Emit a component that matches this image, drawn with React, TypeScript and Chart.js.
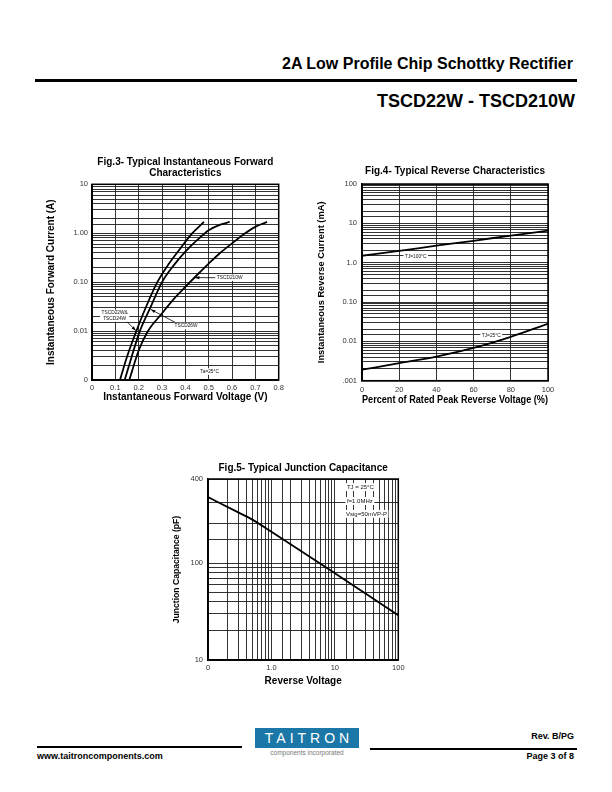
import React, { useEffect, useRef } from 'react';
import { Chart, registerables, LogarithmicScale } from 'chart.js';

const SANS = "'Liberation Sans', Arial, Helvetica, sans-serif";
const NARROW = "'Liberation Sans Narrow', 'Arial Narrow', 'Liberation Sans', Arial, sans-serif";

// ---------------- Fig.3 : forward characteristics ----------------
const FIG3_V_22W = [0.12, 0.15, 0.19, 0.23, 0.28, 0.33, 0.38, 0.43, 0.48];
const FIG3_I_22W = [0.001, 0.003, 0.01, 0.03, 0.1, 0.24, 0.5, 1.0, 1.7];
const FIG3_V_26W = [0.14, 0.17, 0.205, 0.25, 0.3, 0.35, 0.4, 0.45, 0.5, 0.55, 0.59];
const FIG3_I_26W = [0.001, 0.003, 0.01, 0.03, 0.1, 0.22, 0.42, 0.72, 1.15, 1.5, 1.7];
const FIG3_V_210W = [0.16, 0.2, 0.24, 0.3, 0.35, 0.4, 0.45, 0.5, 0.55, 0.6, 0.65, 0.7, 0.75];
const FIG3_I_210W = [0.001, 0.004, 0.01, 0.023, 0.045, 0.08, 0.14, 0.24, 0.4, 0.62, 0.95, 1.35, 1.7];
const FIG3_Y_DECADES = [0.001, 0.01, 0.1, 1, 10];
const FIG3_Y_LABELS = ['0', '0.01', '0.10', '1.00', '10'];

// ---------------- Fig.4 : reverse characteristics ----------------
const FIG4_PCT = [0, 20, 40, 60, 80, 100];
const FIG4_TJ100 = [1.5, 2.0, 2.7, 3.6, 4.9, 6.5];
const FIG4_TJ25 = [0.0019, 0.0028, 0.0041, 0.0068, 0.013, 0.028];
const FIG4_Y_DECADES = [0.001, 0.01, 0.1, 1, 10, 100];
const FIG4_Y_LABELS = ['.001', '0.01', '0.10', '1.0', '10', '100'];

// ---------------- Fig.5 : junction capacitance ----------------
const FIG5_VR = [0.1, 0.3, 0.5, 1, 3, 10, 30, 100];
const FIG5_CJ = [320, 247, 215, 173, 123, 79, 49, 29];
const FIG5_X_DECADES = [0.1, 1, 10, 100];
const FIG5_X_LABELS = ['0', '1.0', '10', '100'];
const FIG5_Y_MARKS = [10, 100, 400];
const FIG5_Y_LABELS = ['10', '100', '400'];
// the original capacitance axis is not evenly logarithmic above 100 pF:
// grid values and where they sit along the axis (0 = bottom, 1 = top)
const FIG5_Y_KNOT_VALUES = [10, 100, 200, 300, 400];
const FIG5_Y_KNOT_FRACTIONS = [0, 0.534, 0.755, 0.871, 1];

type Label = { lines: string[]; x: number; y: number; size: number; align?: 'left' | 'center' };
type Arrow = { from: [number, number]; to: [number, number] };

const FIG3_LABELS: Label[] = [
  { lines: ['TSCD210W'], x: 0.535, y: 0.1236, size: 4.8 },
  { lines: ['TSCD22W&', 'TSCD24W'], x: 0.097, y: 0.0234, size: 4.8, align: 'center' },
  { lines: ['TSCD26W'], x: 0.354, y: 0.0127, size: 4.8 },
  { lines: ['Ta=25°C'], x: 0.504, y: 0.00149, size: 4.8, align: 'center' },
];
const FIG3_ARROWS: Arrow[] = [
  { from: [0.53, 0.1236], to: [0.441, 0.1236] },
  { from: [0.147, 0.0161], to: [0.188, 0.0102] },
  { from: [0.357, 0.015], to: [0.252, 0.0277] },
];
const FIG4_LABELS: Label[] = [
  { lines: ['TJ=100°C'], x: 23.1, y: 1.38, size: 4.8 },
  { lines: ['TJ=25°C'], x: 64.4, y: 0.0141, size: 4.8 },
];
const FIG5_LABELS: Label[] = [
  { lines: ['TJ = 25°C'], x: 15.5, y: 362, size: 6 },
  { lines: ['f=1.0MHz'], x: 15.5, y: 305, size: 6 },
  { lines: ['Vsig=50mVP-P'], x: 15.0, y: 240, size: 6 },
];

class KnottedLogScale extends (LogarithmicScale as any) {
  static id = 'knottedLog';
  static defaults = (LogarithmicScale as any).defaults;

  _knots(): { lv: number[]; fr: number[] } {
    const o: any = (this as any).options;
    const vals: number[] = Array.from(o.knotValues || []);
    const fr: number[] = Array.from(o.knotFractions || []);
    return { lv: vals.map((v) => Math.log10(v)), fr };
  }

  getPixelForValue(value: number) {
    const self: any = this;
    if (value === undefined || value === 0) value = self.min;
    if (value === null || isNaN(value)) return NaN;
    const { lv, fr } = this._knots();
    const l = Math.log10(value);
    let i = 0;
    while (i < lv.length - 2 && l > lv[i + 1]) i++;
    const t = (l - lv[i]) / (lv[i + 1] - lv[i]);
    return self.getPixelForDecimal(fr[i] + t * (fr[i + 1] - fr[i]));
  }

  getValueForPixel(pixel: number) {
    const self: any = this;
    const d = self.getDecimalForPixel(pixel);
    const { lv, fr } = this._knots();
    let i = 0;
    while (i < fr.length - 2 && d > fr[i + 1]) i++;
    const t = (d - fr[i]) / (fr[i + 1] - fr[i]);
    return Math.pow(10, lv[i] + t * (lv[i + 1] - lv[i]));
  }
}

Chart.register(...registerables, KnottedLogScale as any);

function pts(xs: number[], ys: number[]) {
  return xs.map((x, i) => ({ x, y: ys[i] }));
}

function decadeLabeler(marks: number[], labels: string[]) {
  return (value: any) => {
    const v = Number(value);
    const i = marks.findIndex((d) => Math.abs(Math.log10(v) - Math.log10(d)) < 1e-6);
    return i >= 0 ? labels[i] : '';
  };
}

const framePlugin = {
  id: 'frame',
  afterDatasetsDraw(chart: any) {
    const { ctx, chartArea: a } = chart;
    ctx.save();
    ctx.strokeStyle = '#000';
    ctx.lineWidth = 1.5;
    ctx.strokeRect(a.left, a.top, a.right - a.left, a.bottom - a.top);
    ctx.restore();
  },
};

function makeNotes(labels: Label[], arrows: Arrow[]) {
  return {
    id: 'notes',
    afterDatasetsDraw(chart: any) {
      const { ctx } = chart;
      const xs = chart.scales.x;
      const ys = chart.scales.y;
      ctx.save();
      ctx.strokeStyle = '#000';
      ctx.fillStyle = '#000';
      for (const a of arrows) {
        const x1 = xs.getPixelForValue(a.from[0]);
        const y1 = ys.getPixelForValue(a.from[1]);
        const x2 = xs.getPixelForValue(a.to[0]);
        const y2 = ys.getPixelForValue(a.to[1]);
        ctx.lineWidth = 0.8;
        ctx.beginPath();
        ctx.moveTo(x1, y1);
        ctx.lineTo(x2, y2);
        ctx.stroke();
        const ang = Math.atan2(y2 - y1, x2 - x1);
        const L = 4.5;
        const W = 1.6;
        const c = Math.cos(ang);
        const s = Math.sin(ang);
        ctx.beginPath();
        ctx.moveTo(x2, y2);
        ctx.lineTo(x2 - L * c + W * s, y2 - L * s - W * c);
        ctx.lineTo(x2 - L * c - W * s, y2 - L * s + W * c);
        ctx.closePath();
        ctx.fill();
      }
      for (const n of labels) {
        ctx.font = `${n.size}px ${NARROW}`;
        const px = xs.getPixelForValue(n.x);
        const py = ys.getPixelForValue(n.y);
        const lh = n.size * 1.15;
        const widths = n.lines.map((t) => ctx.measureText(t).width);
        const w = Math.max(...widths);
        const h = lh * n.lines.length;
        const left = n.align === 'center' ? px - w / 2 : px;
        ctx.fillStyle = '#fff';
        ctx.fillRect(left - 1.5, py - lh / 2 - 0.5, w + 3, h + 1);
        ctx.fillStyle = '#111';
        ctx.textBaseline = 'middle';
        ctx.textAlign = 'left';
        n.lines.forEach((t, i) => {
          const tx = n.align === 'center' ? px - widths[i] / 2 : left;
          ctx.fillText(t, tx, py + i * lh);
        });
      }
      ctx.restore();
    },
  };
}

function axisBase(tickPad: number) {
  return {
    grid: { color: '#1c1c1c', lineWidth: 0.9, drawTicks: false },
    border: { display: true, color: '#000', width: 1.5 },
    ticks: {
      color: '#333',
      font: { family: NARROW, size: 7.5, lineHeight: 1.2 },
      padding: tickPad,
      autoSkip: false,
      maxRotation: 0,
    },
  };
}

function axisTitle(text: string, size: number, padding: any) {
  return {
    display: true,
    text,
    color: '#000',
    font: { family: SANS, size, weight: 'bold', lineHeight: 1.2 },
    padding,
  };
}

function chartTitle(text: string | string[], padding: any) {
  return {
    display: true,
    text,
    color: '#000',
    fullSize: false,
    font: { family: SANS, size: 10, weight: 'bold', lineHeight: 1.15 },
    padding,
  };
}

function lineSet(data: { x: number; y: number }[]) {
  return {
    data,
    borderColor: '#000',
    borderWidth: 1.8,
    pointRadius: 0,
    fill: false,
    cubicInterpolationMode: 'monotone',
  };
}

function commonOptions(padRight: number, title: any) {
  return {
    responsive: false,
    animation: false,
    events: [],
    layout: { padding: { left: 0, right: padRight, top: 0, bottom: 0 } },
    plugins: { legend: { display: false }, tooltip: { enabled: false }, title },
  };
}

function fig3Config(): any {
  const x = axisBase(3);
  const y = axisBase(4);
  return {
    type: 'line',
    data: {
      datasets: [
        lineSet(pts(FIG3_V_22W, FIG3_I_22W)),
        lineSet(pts(FIG3_V_26W, FIG3_I_26W)),
        lineSet(pts(FIG3_V_210W, FIG3_I_210W)),
      ],
    },
    options: {
      ...commonOptions(11.3, chartTitle(['Fig.3- Typical Instantaneous Forward', 'Characteristics'], { top: 6, bottom: 5.3 })),
      scales: {
        x: {
          ...x,
          type: 'linear',
          min: 0,
          max: 0.8,
          ticks: { ...x.ticks, stepSize: 0.1, callback: (v: any) => (Number(v) === 0 ? '0' : Number(v).toFixed(1)) },
          title: axisTitle('Instantaneous Forward Voltage (V)', 10, { top: 0, bottom: 6.5 }),
          afterFit: (s: any) => { s.height = 30; },
        },
        y: {
          ...y,
          type: 'logarithmic',
          min: 0.001,
          max: 10,
          ticks: { ...y.ticks, callback: decadeLabeler(FIG3_Y_DECADES, FIG3_Y_LABELS) },
          title: axisTitle('Instantaneous Forward Current (A)', 10, { top: 5.7, bottom: 0 }),
          afterFit: (s: any) => { s.width = 52; },
        },
      },
    },
    plugins: [framePlugin, makeNotes(FIG3_LABELS, FIG3_ARROWS)],
  };
}

function fig4Config(): any {
  const x = axisBase(4.8);
  const y = axisBase(5);
  return {
    type: 'line',
    data: {
      datasets: [lineSet(pts(FIG4_PCT, FIG4_TJ100)), lineSet(pts(FIG4_PCT, FIG4_TJ25))],
    },
    options: {
      ...commonOptions(27, chartTitle('Fig.4- Typical Reverse Characteristics', { top: 5.3, bottom: 7.2 })),
      scales: {
        x: {
          ...x,
          type: 'linear',
          min: 0,
          max: 100,
          ticks: { ...x.ticks, stepSize: 20 },
          title: axisTitle('Percent of Rated Peak Reverse Voltage (%)', 10, { top: 0, bottom: 3.3 }),
          afterFit: (s: any) => { s.height = 29.3; },
        },
        y: {
          ...y,
          type: 'logarithmic',
          min: 0.001,
          max: 100,
          ticks: { ...y.ticks, callback: decadeLabeler(FIG4_Y_DECADES, FIG4_Y_LABELS) },
          title: axisTitle('Instantaneous Reverse Current (mA)', 9.3, { top: 6, bottom: 0 }),
          afterFit: (s: any) => { s.width = 52; },
        },
      },
    },
    plugins: [framePlugin, makeNotes(FIG4_LABELS, [])],
  };
}

function fig5Config(): any {
  const x = axisBase(3.8);
  const y = axisBase(5);
  return {
    type: 'line',
    data: { datasets: [lineSet(pts(FIG5_VR, FIG5_CJ))] },
    options: {
      ...commonOptions(16.7, chartTitle('Fig.5- Typical Junction Capacitance', { top: 7, bottom: 5.5 })),
      scales: {
        x: {
          ...x,
          type: 'logarithmic',
          min: 0.1,
          max: 100,
          ticks: { ...x.ticks, callback: decadeLabeler(FIG5_X_DECADES, FIG5_X_LABELS) },
          title: axisTitle('Reverse Voltage', 10, { top: 0, bottom: 2.3 }),
          afterFit: (s: any) => { s.height = 30; },
        },
        y: {
          ...y,
          type: 'knottedLog',
          min: 10,
          max: 400,
          knotValues: FIG5_Y_KNOT_VALUES,
          knotFractions: FIG5_Y_KNOT_FRACTIONS,
          ticks: { ...y.ticks, callback: decadeLabeler(FIG5_Y_MARKS, FIG5_Y_LABELS) },
          title: axisTitle('Junction Capacitance (pF)', 8.6, { top: 11.5, bottom: 0 }),
          afterFit: (s: any) => { s.width = 48; },
        },
      },
    },
    plugins: [framePlugin, makeNotes(FIG5_LABELS, [])],
  };
}

function ChartBox(props: { left: number; top: number; width: number; height: number; make: () => any }) {
  const ref = useRef<HTMLCanvasElement>(null);
  useEffect(() => {
    const chart = new Chart(ref.current as HTMLCanvasElement, props.make());
    return () => chart.destroy();
  }, []);
  const { left, top, width, height } = props;
  return (
    <canvas
      ref={ref}
      width={width}
      height={height}
      style={{ position: 'absolute', left, top, width, height }}
    />
  );
}

const abs = (s: any): any => ({ position: 'absolute', whiteSpace: 'nowrap', ...s });

export default function App() {
  return (
    <div style={abs({ left: 0, top: 0, width: 612, height: 792, background: '#fff', overflow: 'hidden', fontFamily: SANS, color: '#000' })}>
      {/* header */}
      <div style={abs({ right: 39, top: 56, fontSize: 16, lineHeight: '16px', fontWeight: 'bold' })}>
        2A Low Profile Chip Schottky Rectifier
      </div>
      <div style={abs({ left: 35, top: 79, width: 542, height: 3, background: '#000' })} />
      <div style={abs({ right: 37, top: 92, fontSize: 18, lineHeight: '18px', fontWeight: 'bold' })}>
        TSCD22W - TSCD210W
      </div>

      <ChartBox left={40} top={150} width={250} height={260} make={fig3Config} />
      <ChartBox left={310} top={160} width={265} height={250} make={fig4Config} />
      <ChartBox left={160} top={455} width={255} height={235} make={fig5Config} />

      {/* footer */}
      <div style={abs({ left: 37, top: 746, width: 205, height: 2, background: '#000' })} />
      <div style={abs({ left: 370, top: 748, width: 207, height: 2, background: '#000' })} />
      <div style={abs({ left: 255, top: 728, width: 104, height: 20, background: '#1b77a7', color: '#fff', fontSize: 14, lineHeight: '20px', textAlign: 'center', letterSpacing: 4, textIndent: 4 })}>
        TAITRON
      </div>
      <div style={abs({ left: 255, top: 749, width: 104, fontSize: 6.5, lineHeight: '7px', textAlign: 'center', color: '#777' })}>
        components incorporated
      </div>
      <div style={abs({ right: 38, top: 731, fontSize: 9, lineHeight: '10px', fontWeight: 'bold' })}>Rev. B/PG</div>
      <div style={abs({ left: 37, top: 751, fontSize: 9, lineHeight: '10px', fontWeight: 'bold' })}>www.taitroncomponents.com</div>
      <div style={abs({ right: 38, top: 751, fontSize: 9, lineHeight: '10px', fontWeight: 'bold' })}>Page 3 of 8</div>
    </div>
  );
}
